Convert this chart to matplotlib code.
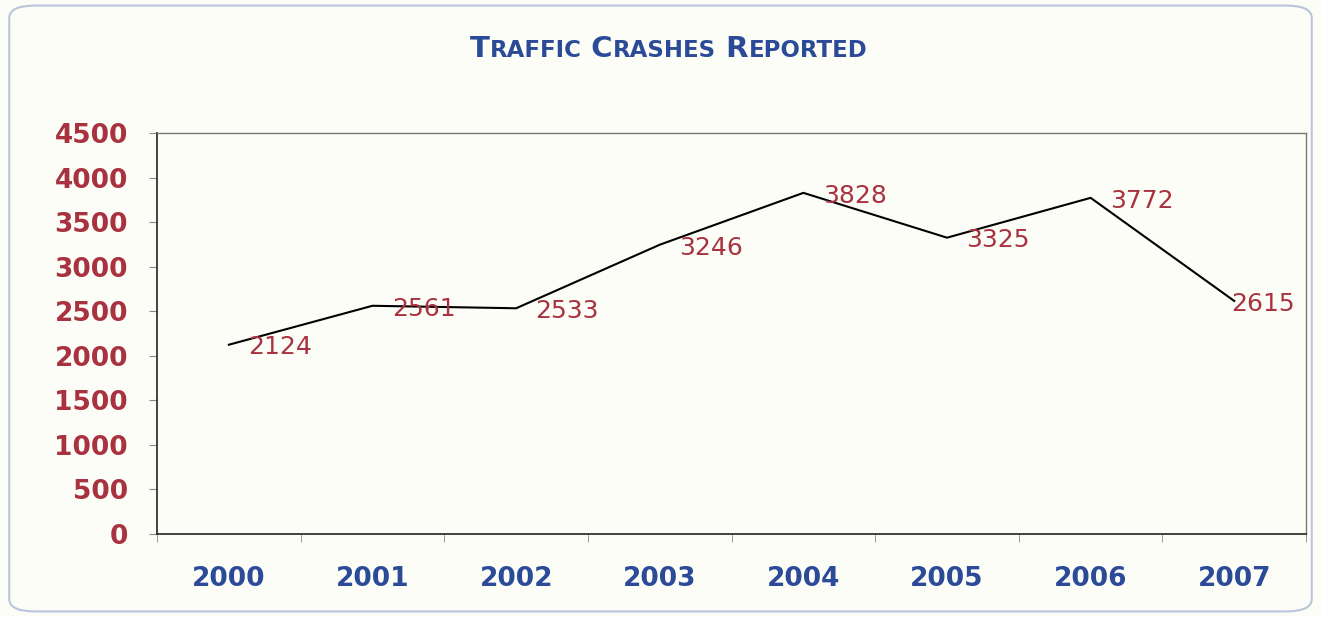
import matplotlib.pyplot as plt
from matplotlib.patches import FancyBboxPatch
import numpy as np

years = ['2000', '2001', '2002', '2003', '2004', '2005', '2006', '2007']
crashes = [2124, 2561, 2533, 3246, 3828, 3325, 3772, 2615]
y_ticks = [0, 500, 1000, 1500, 2000, 2500, 3000, 3500, 4000, 4500]

RED = '#a8323f'
BLUE = '#2b4b98'
BG = '#fdfdf8'


def small_caps_title(fig, words, x, y, big=21, small=16.5):
    # fake small caps: first letter big, rest smaller, chained left to right
    pieces = []
    for i, w in enumerate(words):
        lead = ('' if i == 0 else ' ') + w[0]
        pieces.append((lead, big))
        pieces.append((w[1:].upper(), small))
    # measure total width first
    r = fig.canvas.get_renderer()
    widths = []
    for s, fs in pieces:
        t = fig.text(0, 0, s, fontsize=fs, fontweight='bold', color=BLUE)
        widths.append(t.get_window_extent(r).width)
        t.remove()
    cur = x * fig.bbox.width - sum(widths) / 2
    for (s, fs), w in zip(pieces, widths):
        fig.text(cur / fig.bbox.width, y, s, fontsize=fs, fontweight='bold',
                 color=BLUE, va='baseline', ha='left')
        cur += w


def make_plot():
    plt.rcParams['font.family'] = ['DejaVu Sans']
    fig = plt.figure(figsize=(13.21, 6.17), dpi=100, facecolor=BG)

    # rounded border around the whole chart
    border = FancyBboxPatch((0.007, 0.009), 0.986, 0.982,
                            boxstyle='round,pad=0,rounding_size=0.02',
                            transform=fig.transFigure, facecolor=BG,
                            edgecolor='#b9c6da', linewidth=1.5, zorder=-10)
    fig.patches.append(border)

    ax = fig.add_axes([0.1189, 0.1345, 0.8698, 0.65])
    ax.set_facecolor(BG)

    x = np.arange(len(years))
    ax.plot(x, crashes, color='black', linewidth=1.5)

    x_off = [14, 14, 14, 14, 14, 14, 14, -2]
    for xi, v, dx in zip(x, crashes, x_off):
        ax.annotate(str(v), (xi, v), xytext=(dx, -2), textcoords='offset points',
                    ha='left', va='center', color=RED, fontsize=18,
                    annotation_clip=False)

    ax.set_xlim(-0.5, len(years) - 0.5)
    ax.set_ylim(0, 4500)
    ax.set_yticks(y_ticks)
    ax.set_yticklabels([str(t) for t in y_ticks], color=RED, fontsize=19,
                       fontweight='bold')
    ax.set_xticks(x)
    ax.set_xticklabels(years, color=BLUE, fontsize=19, fontweight='bold')
    ax.set_xticks(np.arange(-0.5, len(years)), minor=True)
    ax.tick_params(axis='x', which='major', length=0, pad=23)
    ax.tick_params(axis='x', which='minor', length=6, color='#888888')
    ax.tick_params(axis='y', length=6, color='#888888', pad=15)

    for side in ['left', 'bottom']:
        ax.spines[side].set_color('#333333')
        ax.spines[side].set_linewidth(1.3)
    for side in ['top', 'right']:
        ax.spines[side].set_color('#777777')
        ax.spines[side].set_linewidth(1.0)

    small_caps_title(fig, ['Traffic', 'Crashes', 'Reported'], 0.506, 0.908)

    plt.savefig('out.png', dpi=100, facecolor=BG)


if __name__ == "__main__":
    make_plot()
